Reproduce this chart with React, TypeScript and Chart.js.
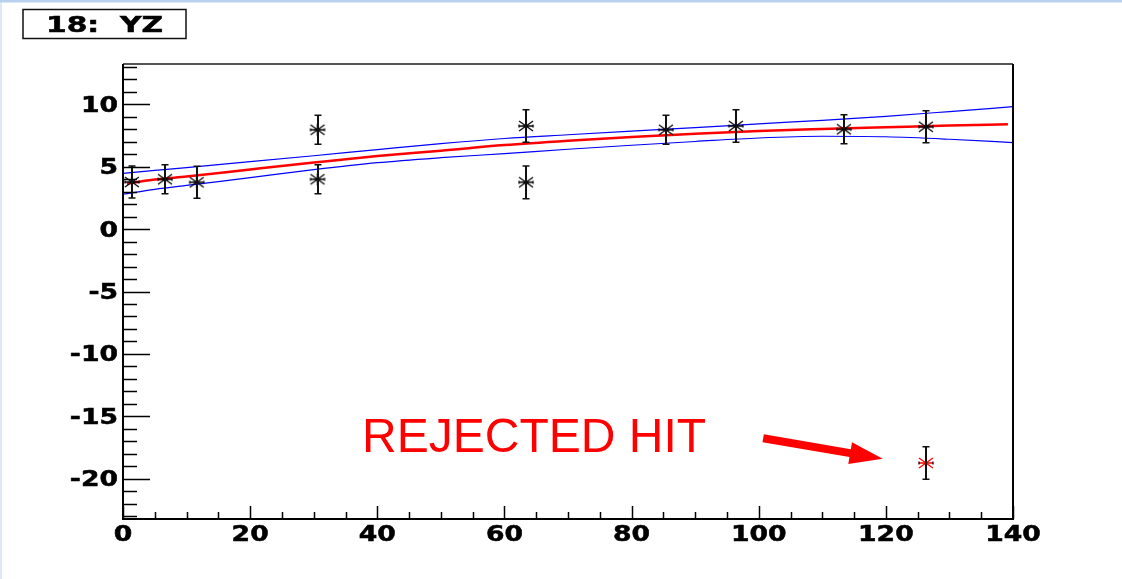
import React, { useEffect, useRef } from "react";
import { Chart, registerables } from "chart.js";

Chart.register(...registerables);

// ---- data ----
const hitX = [1.4, 6.6, 11.6, 30.6, 30.6, 63.4, 63.4, 85.4, 96.4, 113.4, 126.3];
const hitY = [3.77, 3.99, 3.75, 7.96, 3.99, 8.26, 3.75, 7.96, 8.26, 8.0, 8.2];
const hitErr = [1.28, 1.16, 1.28, 1.16, 1.16, 1.31, 1.31, 1.16, 1.31, 1.16, 1.28];

const rejectedX = [126.3];
const rejectedY = [-18.74];
const rejectedErr = [1.3];

const fitX = [0.6, 5, 10, 20, 30, 40, 50, 60, 70, 80, 90, 100, 110, 120, 130, 139.2];
const fitY = [3.64, 3.97, 4.22, 4.78, 5.33, 5.85, 6.28, 6.73, 7.08, 7.38, 7.64, 7.86, 8.02, 8.16, 8.3, 8.4];

const bandX = [0, 5, 10, 20, 30, 40, 50, 60, 70, 80, 90, 100, 110, 120, 130, 140];
const bandUpper = [4.46, 4.7, 4.93, 5.4, 5.88, 6.37, 6.85, 7.26, 7.56, 7.85, 8.13, 8.44, 8.71, 9.04, 9.42, 9.81];
const bandLower = [2.8, 3.18, 3.5, 4.12, 4.76, 5.32, 5.72, 6.05, 6.4, 6.72, 7.02, 7.3, 7.44, 7.4, 7.2, 6.93];

const xTickValues = [0, 20, 40, 60, 80, 100, 120, 140];
const xTickLabels = ["0", "20", "40", "60", "80", "100", "120", "140"];
const yTickValues = [-20, -15, -10, -5, 0, 5, 10];
const yTickLabels = ["-20", "-15", "-10", "-5", "0", "5", "10"];

const titleText = "18:  YZ";
const noteText = "REJECTED HIT";
const noteAt = [37.6, -17.86];
const arrowTail = [100.7, -16.76];
const arrowTip = [119.5, -18.4];

const X_MIN = 0;
const X_MAX = 140;
const Y_MIN = -23.23;
const Y_MAX = 13.23;

// ---- styling ----
const LABEL_FONT = "bold 20.5px 'DejaVu Sans', sans-serif";
const STRETCH = 1.3;
const TITLE_STRETCH = 1.45;

function makeMarker(color: string, edge: string) {
  const c = document.createElement("canvas");
  c.width = 18;
  c.height = 16;
  const g = c.getContext("2d")!;
  g.translate(9, 8);
  g.lineWidth = 1.3;
  g.strokeStyle = color;
  g.beginPath();
  g.moveTo(-7, -5);
  g.lineTo(7, 5);
  g.moveTo(-7, 5);
  g.lineTo(7, -5);
  g.moveTo(-7, 0);
  g.lineTo(7, 0);
  g.moveTo(0, -6);
  g.lineTo(0, 6);
  g.stroke();
  g.strokeStyle = edge;
  g.lineWidth = 1.3;
  g.beginPath();
  g.moveTo(-7, -1.5);
  g.lineTo(-7, 1.5);
  g.moveTo(7, -1.5);
  g.lineTo(7, 1.5);
  g.stroke();
  return c;
}

function stretchedText(
  ctx: CanvasRenderingContext2D,
  text: string,
  x: number,
  y: number,
  align: CanvasTextAlign,
  sx: number = STRETCH
) {
  ctx.save();
  ctx.translate(x, y);
  ctx.scale(sx, 1);
  ctx.textAlign = align;
  ctx.textBaseline = "alphabetic";
  ctx.lineWidth = 0.5;
  ctx.strokeStyle = ctx.fillStyle as string;
  ctx.fillText(text, 0, 0);
  ctx.strokeText(text, 0, 0);
  ctx.restore();
}

const rootPlugin = {
  id: "rootStyle",
  beforeDraw(chart: any) {
    const ctx: CanvasRenderingContext2D = chart.ctx;
    ctx.save();
    ctx.fillStyle = "#ffffff";
    ctx.fillRect(0, 0, chart.width, chart.height);
    ctx.fillStyle = "#dfe8f5";
    ctx.fillRect(0, 0, 2, chart.height);
    ctx.fillStyle = "#b9d1ee";
    ctx.fillRect(0, 0, chart.width, 2.5);
    ctx.restore();
  },
  afterDatasetsDraw(chart: any) {
    const ctx: CanvasRenderingContext2D = chart.ctx;
    const xs = chart.scales.x;
    const ys = chart.scales.y;
    const area = chart.chartArea;
    ctx.save();

    // error bars
    const drawErr = (x: number, y: number, e: number) => {
      const px = Math.round(xs.getPixelForValue(x));
      const top = ys.getPixelForValue(y + e);
      const bot = ys.getPixelForValue(y - e);
      ctx.strokeStyle = "#111";
      ctx.lineWidth = 2;
      ctx.beginPath();
      ctx.moveTo(px, top);
      ctx.lineTo(px, bot);
      ctx.stroke();
      ctx.lineWidth = 1.5;
      ctx.beginPath();
      ctx.moveTo(px - 3.5, top);
      ctx.lineTo(px + 3.5, top);
      ctx.moveTo(px - 3.5, bot);
      ctx.lineTo(px + 3.5, bot);
      ctx.stroke();
    };
    hitX.forEach((x, i) => drawErr(x, hitY[i], hitErr[i]));
    rejectedX.forEach((x, i) => drawErr(x, rejectedY[i], rejectedErr[i]));

    // frame
    ctx.lineWidth = 2;
    ctx.strokeStyle = "#555";
    ctx.beginPath();
    ctx.moveTo(area.left, area.top);
    ctx.lineTo(area.right, area.top);
    ctx.stroke();
    ctx.strokeStyle = "#000";
    ctx.beginPath();
    ctx.moveTo(area.right, area.top);
    ctx.lineTo(area.right, area.bottom);
    ctx.lineTo(area.left, area.bottom);
    ctx.lineTo(area.left, area.top);
    ctx.stroke();

    // y ticks (inside)
    ctx.lineWidth = 1.5;
    ctx.strokeStyle = "#000";
    ctx.beginPath();
    for (let v = Math.ceil(Y_MIN); v <= Math.floor(Y_MAX); v++) {
      const py = Math.round(ys.getPixelForValue(v)) + 0.5;
      const len = yTickValues.includes(v) ? 27 : 14;
      ctx.moveTo(area.left, py);
      ctx.lineTo(area.left + len, py);
    }
    // x ticks (inside)
    for (let v = X_MIN; v <= X_MAX; v += 5) {
      const px = Math.round(xs.getPixelForValue(v)) + 0.5;
      const len = xTickValues.includes(v) ? 13 : 7;
      ctx.moveTo(px, area.bottom);
      ctx.lineTo(px, area.bottom - len);
    }
    ctx.stroke();

    // tick labels
    ctx.fillStyle = "#000";
    ctx.font = LABEL_FONT;
    yTickValues.forEach((v, i) => {
      stretchedText(ctx, yTickLabels[i], area.left - 5, ys.getPixelForValue(v) + 7.5, "right");
    });
    xTickValues.forEach((v, i) => {
      stretchedText(ctx, xTickLabels[i], xs.getPixelForValue(v), area.bottom + 21.5, "center");
    });

    // title box
    ctx.lineWidth = 1.5;
    ctx.strokeStyle = "#111";
    ctx.strokeRect(23, 9.5, 163, 29);
    stretchedText(ctx, titleText, 104.5, 31.5, "center", TITLE_STRETCH);

    // annotation text
    ctx.fillStyle = "#ff0000";
    ctx.font = "48px 'Liberation Sans', Arial, sans-serif";
    ctx.textAlign = "left";
    ctx.textBaseline = "alphabetic";
    ctx.fillText(noteText, xs.getPixelForValue(noteAt[0]), ys.getPixelForValue(noteAt[1]));

    // arrow
    const tx = xs.getPixelForValue(arrowTail[0]);
    const ty = ys.getPixelForValue(arrowTail[1]);
    const hx = xs.getPixelForValue(arrowTip[0]);
    const hy = ys.getPixelForValue(arrowTip[1]);
    const dx = hx - tx;
    const dy = hy - ty;
    const L = Math.hypot(dx, dy);
    const ux = dx / L;
    const uy = dy / L;
    const nx = -uy;
    const ny = ux;
    const headLen = 33;
    const headHalf = 11;
    const shaftHalf = 4;
    const bx = hx - ux * headLen;
    const by = hy - uy * headLen;
    ctx.beginPath();
    ctx.moveTo(tx + nx * shaftHalf, ty + ny * shaftHalf);
    ctx.lineTo(bx + nx * shaftHalf, by + ny * shaftHalf);
    ctx.lineTo(bx + nx * headHalf, by + ny * headHalf);
    ctx.lineTo(hx, hy);
    ctx.lineTo(bx - nx * headHalf, by - ny * headHalf);
    ctx.lineTo(bx - nx * shaftHalf, by - ny * shaftHalf);
    ctx.lineTo(tx - nx * shaftHalf, ty - ny * shaftHalf);
    ctx.closePath();
    ctx.fill();

    ctx.restore();
  },
};

export default function App() {
  const ref = useRef<HTMLCanvasElement>(null);
  useEffect(() => {
    const canvas = ref.current;
    if (!canvas) return;
    const blackMarker = makeMarker("#000", "#000");
    const redMarker = makeMarker("#ff0000", "#000");
    const chart = new Chart(canvas, {
      type: "scatter",
      data: {
        datasets: [
          {
            data: hitX.map((x, i) => ({ x, y: hitY[i] })),
            pointStyle: blackMarker,
            pointRadius: 7,
            order: 0,
          },
          {
            data: rejectedX.map((x, i) => ({ x, y: rejectedY[i] })),
            pointStyle: redMarker,
            pointRadius: 7,
            order: 0,
          },
          {
            data: fitX.map((x, i) => ({ x, y: fitY[i] })),
            showLine: true,
            pointRadius: 0,
            borderColor: "#ff0000",
            borderWidth: 2.5,
            cubicInterpolationMode: "monotone",
            order: 2,
          },
          {
            data: bandX.map((x, i) => ({ x, y: bandUpper[i] })),
            showLine: true,
            pointRadius: 0,
            borderColor: "#0000ff",
            borderWidth: 1.2,
            cubicInterpolationMode: "monotone",
            order: 3,
          },
          {
            data: bandX.map((x, i) => ({ x, y: bandLower[i] })),
            showLine: true,
            pointRadius: 0,
            borderColor: "#0000ff",
            borderWidth: 1.2,
            cubicInterpolationMode: "monotone",
            order: 3,
          },
        ],
      },
      options: {
        responsive: false,
        animation: false,
        events: [],
        layout: { padding: { left: 123, top: 64, right: 109, bottom: 60 } },
        scales: {
          x: { type: "linear", min: X_MIN, max: X_MAX, display: false },
          y: { type: "linear", min: Y_MIN, max: Y_MAX, display: false },
        },
        plugins: {
          legend: { display: false },
          tooltip: { enabled: false },
          title: { display: false },
        },
      },
      plugins: [rootPlugin],
    } as any);
    return () => chart.destroy();
  }, []);
  return (
    <div
      style={{
        position: "absolute",
        left: 0,
        top: 0,
        width: 1122,
        height: 579,
        background: "#fff",
        overflow: "hidden",
      }}
    >
      <canvas ref={ref} width={1122} height={579} style={{ display: "block" }} />
    </div>
  );
}
